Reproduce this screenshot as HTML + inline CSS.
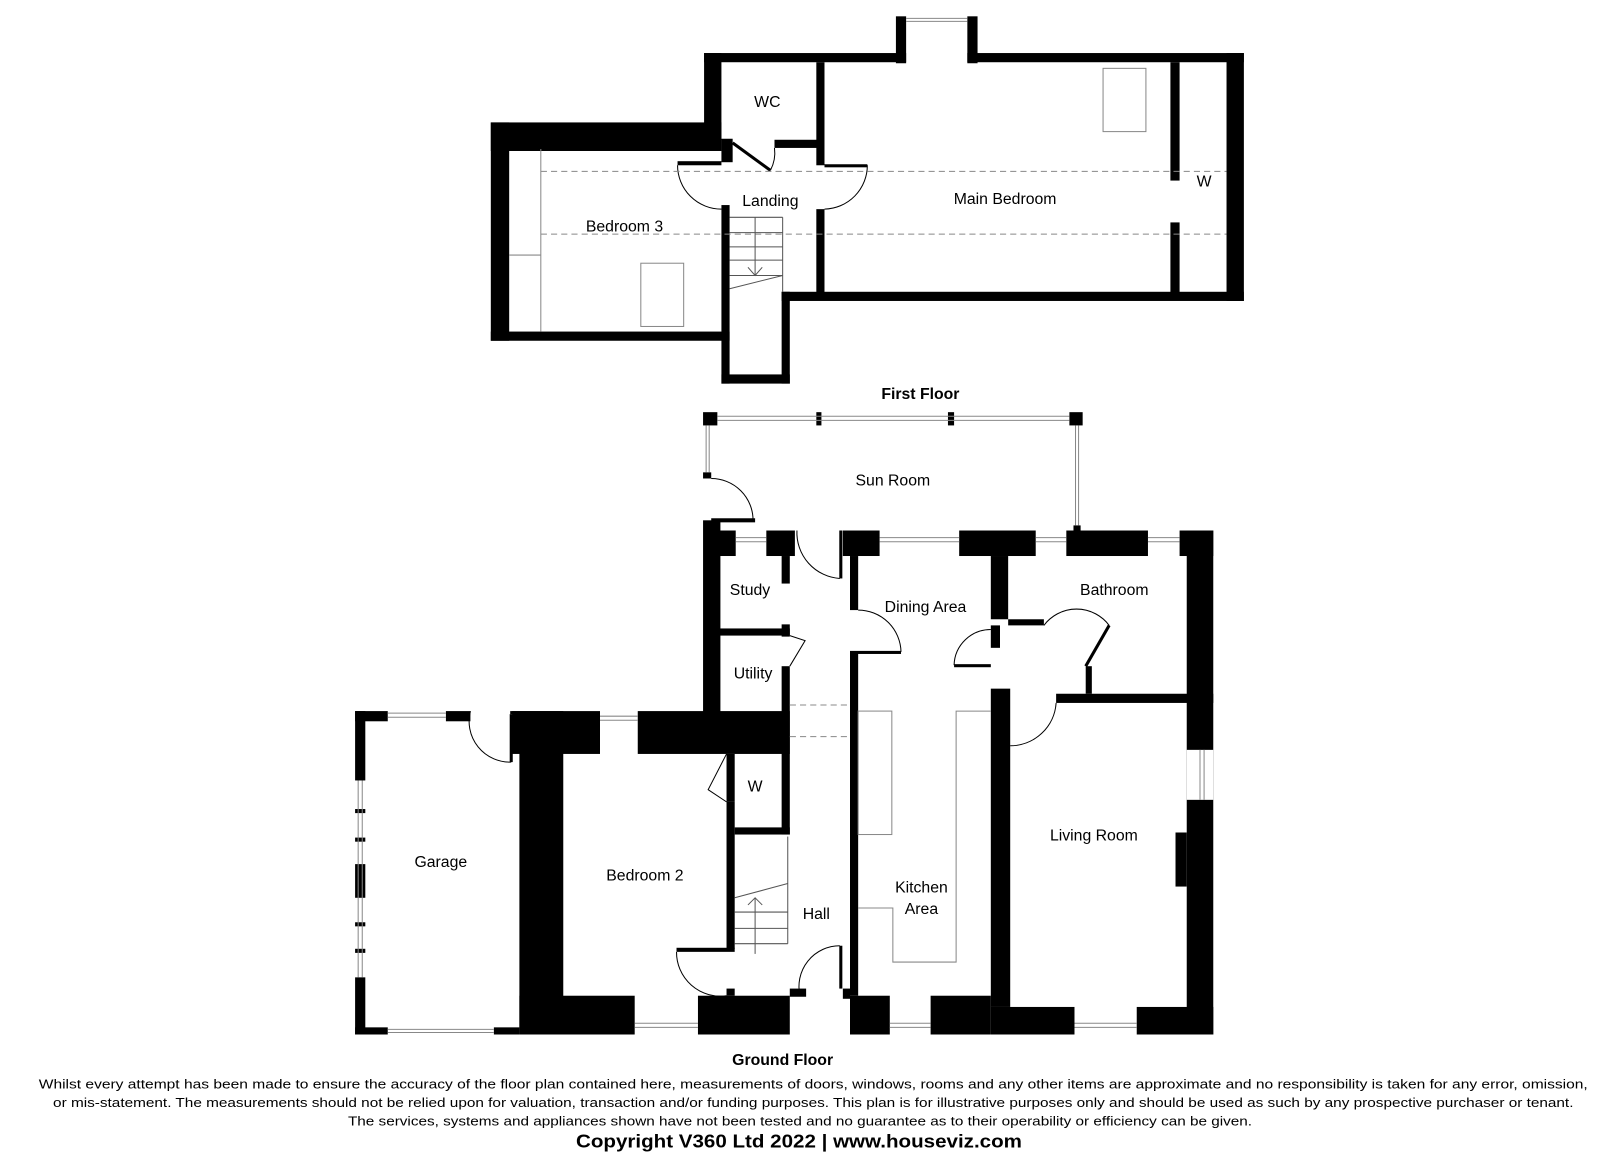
<!DOCTYPE html>
<html><head><meta charset="utf-8"><style>
html,body{margin:0;padding:0;background:#fff;}
svg{display:block;}
text{font-family:"Liberation Sans",Arial,sans-serif;fill:#000;}
</style></head><body>
<svg width="1600" height="1161" viewBox="0 0 1568 1138" preserveAspectRatio="none" xmlns="http://www.w3.org/2000/svg">
<g fill="#000">
<rect x="878" y="16" width="10" height="46"/>
<rect x="948" y="16" width="10" height="46"/>
<rect x="690" y="52" width="198" height="9"/>
<rect x="948" y="52" width="271" height="9"/>
<rect x="690" y="52" width="17" height="85"/>
<rect x="481" y="120" width="226" height="28"/>
<rect x="481" y="120" width="18" height="214"/>
<rect x="481" y="325" width="234" height="9"/>
<rect x="707" y="136" width="11" height="23"/>
<rect x="664" y="158" width="43" height="4"/>
<rect x="759" y="137" width="42" height="8"/>
<rect x="800" y="61" width="8" height="101"/>
<rect x="800" y="205" width="8" height="82"/>
<rect x="808" y="161" width="42" height="3"/>
<rect x="707" y="201" width="8" height="175"/>
<rect x="707" y="367" width="67" height="9"/>
<rect x="766" y="286" width="8" height="90"/>
<rect x="766" y="286" width="453" height="9"/>
<rect x="1202" y="52" width="17" height="243"/>
<rect x="1147" y="61" width="9" height="116"/>
<rect x="1147" y="218" width="9" height="69"/>
</g>
<g fill="none" stroke="#000" stroke-width="1">
<path d="M664 162 A43 43 0 0 0 707 205"/>
<path d="M850 162 A43 43 0 0 1 808 205"/>
<line x1="718" y1="140" x2="755" y2="167" stroke-width="3"/>
<path d="M755 167 A37 37 0 0 0 759 145"/>
<line x1="888" y1="18" x2="948" y2="18" stroke="#888"/>
<line x1="888" y1="21" x2="948" y2="21" stroke="#888"/>
</g>
<g fill="none" stroke="#888" stroke-width="1">
<line x1="530" y1="146" x2="530" y2="325"/>
<line x1="499" y1="250" x2="530" y2="250"/>
<rect x="1081" y="67" width="42" height="62"/>
<rect x="628" y="258" width="42" height="62"/>
<line x1="530" y1="168" x2="1202" y2="168" stroke-dasharray="6 4"/>
<line x1="530" y1="229.5" x2="1202" y2="229.5" stroke-dasharray="6 4"/>
<g stroke="#555"><line x1="715" y1="213" x2="767" y2="213"/><line x1="715" y1="228" x2="767" y2="228"/><line x1="715" y1="242" x2="767" y2="242"/><line x1="715" y1="255" x2="767" y2="255"/><line x1="715" y1="270" x2="767" y2="270"/><line x1="767" y1="270" x2="715" y2="283"/><line x1="767" y1="213" x2="767" y2="286"/><line x1="740" y1="213" x2="740" y2="270"/><path d="M733 262 L740 270 L747 262"/></g>
</g>
<g font-size="15.5" text-anchor="middle">
<text x="752" y="105">WC</text>
<text x="755" y="202">Landing</text>
<text x="612" y="227">Bedroom 3</text>
<text x="985" y="200">Main Bedroom</text>
<text x="1180" y="183">W</text>
<text x="902" y="391" font-weight="bold">First Floor</text>
</g>

<g fill="#000">
<rect x="689" y="404" width="14" height="13"/>
<rect x="800" y="404" width="5" height="13"/>
<rect x="929" y="404" width="6" height="13"/>
<rect x="1048" y="404" width="13" height="13"/>
<rect x="689" y="463" width="8" height="6"/>
<rect x="689" y="510" width="17" height="190"/>
<rect x="697" y="508" width="43" height="4"/>
<rect x="1052" y="515" width="7" height="6"/>
<rect x="697" y="520" width="24" height="25"/>
<rect x="751" y="520" width="28" height="25"/>
<rect x="826" y="520" width="36" height="25"/>
<rect x="940" y="520" width="75" height="25"/>
<rect x="1045" y="520" width="80" height="25"/>
<rect x="1156" y="520" width="33" height="25"/>
<rect x="1163" y="520" width="26" height="494"/>
<rect x="766" y="545" width="8" height="27"/>
<rect x="697" y="616" width="77" height="7"/>
<rect x="766" y="612" width="8" height="12"/>
<rect x="766" y="653" width="8" height="165"/>
<rect x="502" y="697" width="86" height="42"/>
<rect x="625" y="697" width="149" height="42"/>
<rect x="509" y="697" width="43" height="317"/>
<rect x="712" y="739" width="8" height="47" />
<rect x="712" y="786" width="8" height="144"/>
<rect x="663" y="929" width="57" height="4"/>
<rect x="720" y="811" width="54" height="7"/>
<rect x="509" y="976" width="113" height="38"/>
<rect x="684" y="976" width="90" height="38"/>
<rect x="774" y="969" width="16" height="8"/>
<rect x="712" y="969" width="8" height="7"/>
<rect x="826" y="969" width="7" height="10"/>
<rect x="348" y="697" width="32" height="10"/>
<rect x="437" y="697" width="24" height="10"/>
<rect x="348" y="697" width="10" height="68"/>
<rect x="348" y="793" width="10" height="4"/>
<rect x="348" y="821" width="10" height="4"/>
<rect x="348" y="847" width="10" height="33"/>
<rect x="348" y="904" width="10" height="4"/>
<rect x="348" y="930" width="10" height="4"/>
<rect x="348" y="958" width="10" height="56"/>
<rect x="348" y="1007" width="32" height="7"/>
<rect x="484" y="1007" width="25" height="7"/>
<rect x="500" y="697" width="9" height="3"/>
<rect x="833" y="545" width="8" height="53"/>
<rect x="833" y="638" width="50" height="3"/>
<rect x="833" y="639" width="8" height="337"/>
<rect x="833" y="976" width="39" height="38"/>
<rect x="912" y="976" width="59" height="38"/>
<rect x="971" y="987" width="82" height="27"/>
<rect x="1114" y="987" width="75" height="27"/>
<rect x="971" y="545" width="17" height="62"/>
<rect x="988" y="607" width="35" height="6"/>
<rect x="971" y="613" width="9" height="22"/>
<rect x="935" y="651" width="36" height="3"/>
<rect x="971" y="675" width="19" height="312"/>
<rect x="1035" y="680" width="154" height="9"/>
<rect x="1064" y="653" width="6" height="27"/>
<rect x="1152" y="816" width="11" height="53"/>
</g>
<rect x="1163" y="735" width="26" height="49" fill="#fff"/>
<g fill="none" stroke="#888" stroke-width="1">
<line x1="703" y1="408" x2="1048" y2="408"/><line x1="703" y1="412" x2="1048" y2="412"/>
<line x1="692" y1="417" x2="692" y2="463"/><line x1="695" y1="417" x2="695" y2="463"/>
<line x1="1054" y1="417" x2="1054" y2="515"/><line x1="1057" y1="417" x2="1057" y2="515"/>
<line x1="721" y1="527" x2="751" y2="527"/><line x1="721" y1="531" x2="751" y2="531"/>
<line x1="862" y1="527" x2="940" y2="527"/><line x1="862" y1="531" x2="940" y2="531"/>
<line x1="1015" y1="527" x2="1045" y2="527"/><line x1="1015" y1="531" x2="1045" y2="531"/>
<line x1="1125" y1="527" x2="1156" y2="527"/><line x1="1125" y1="531" x2="1156" y2="531"/>
<line x1="588" y1="702" x2="625" y2="702"/><line x1="588" y1="706" x2="625" y2="706"/>
<line x1="380" y1="699" x2="437" y2="699"/><line x1="380" y1="703" x2="437" y2="703"/>
<line x1="351" y1="765" x2="351" y2="958"/><line x1="355" y1="765" x2="355" y2="958"/>
<line x1="380" y1="1009" x2="484" y2="1009"/><line x1="380" y1="1012" x2="484" y2="1012"/>
<line x1="622" y1="1003" x2="684" y2="1003"/><line x1="622" y1="1007" x2="684" y2="1007"/>
<line x1="872" y1="1003" x2="912" y2="1003"/><line x1="872" y1="1007" x2="912" y2="1007"/>
<line x1="1053" y1="1003" x2="1114" y2="1003"/><line x1="1053" y1="1007" x2="1114" y2="1007"/>
<line x1="1176" y1="735" x2="1176" y2="784"/><line x1="1180" y1="735" x2="1180" y2="784"/>
<line x1="774" y1="691" x2="833" y2="691" stroke-dasharray="6 4"/>
<line x1="774" y1="722" x2="833" y2="722" stroke-dasharray="6 4"/>
<rect x="841" y="697" width="33" height="121"/>
<path d="M841 890 L875 890 L875 943 L937 943 L937 697 L971 697"/>
<g stroke="#555"><line x1="772" y1="820" x2="772" y2="925"/><line x1="720" y1="880" x2="772" y2="866"/><line x1="720" y1="894" x2="772" y2="894"/><line x1="720" y1="910" x2="772" y2="910"/><line x1="720" y1="925" x2="772" y2="925"/><line x1="740" y1="880" x2="740" y2="935"/><path d="M733 887 L740 880 L747 887"/></g>
</g>
<g fill="none" stroke="#000" stroke-width="1">
<path d="M697 469 A41 41 0 0 1 738 510"/>
<path d="M781 520 A45 45 0 0 0 823 567"/>
<line x1="824" y1="520" x2="824" y2="567" stroke-width="3"/>
<path d="M774 623 L789 628 L774 653" stroke-width="1"/>
<path d="M841 598 A42 42 0 0 1 883 639"/>
<path d="M461 697 A40 40 0 0 0 501 747"/>
<line x1="501" y1="700" x2="501" y2="747" stroke-width="3"/>
<path d="M712 739 L694 774 L712 786"/>
<path d="M663 933 A43 43 0 0 0 712 976"/>
<path d="M784 976 A40 40 0 0 1 823 927"/>
<line x1="824" y1="927" x2="824" y2="969" stroke-width="3"/>
<path d="M935 652 A36 36 0 0 1 971 617"/>
<path d="M990 731 A45 45 0 0 0 1035 689"/>
<path d="M1023 613 A40 40 0 0 1 1087 613"/>
<line x1="1064" y1="653" x2="1087" y2="613" stroke-width="3"/>
</g>
<g font-size="15.5" text-anchor="middle">
<text x="875" y="476">Sun Room</text>
<text x="735" y="583">Study</text>
<text x="907" y="600">Dining Area</text>
<text x="1092" y="583">Bathroom</text>
<text x="738" y="665">Utility</text>
<text x="740" y="776">W</text>
<text x="432" y="850">Garage</text>
<text x="632" y="863">Bedroom 2</text>
<text x="1072" y="824">Living Room</text>
<text x="903" y="875">Kitchen</text>
<text x="903" y="896">Area</text>
<text x="800" y="901">Hall</text>
<text x="767" y="1044" font-weight="bold">Ground Floor</text>
</g>
<g font-size="13" text-anchor="middle">
<text x="797" y="1067" textLength="1518" lengthAdjust="spacingAndGlyphs">Whilst every attempt has been made to ensure the accuracy of the floor plan contained here, measurements of doors, windows, rooms and any other items are approximate and no responsibility is taken for any error, omission,</text>
<text x="797" y="1085" textLength="1490" lengthAdjust="spacingAndGlyphs">or mis-statement. The measurements should not be relied upon for valuation, transaction and/or funding purposes. This plan is for illustrative purposes only and should be used as such by any prospective purchaser or tenant.</text>
<text x="784" y="1103" textLength="886" lengthAdjust="spacingAndGlyphs">The services, systems and appliances shown have not been tested and no guarantee as to their operability or efficiency can be given.</text>
<text x="783" y="1125" font-size="18" font-weight="bold" textLength="437" lengthAdjust="spacingAndGlyphs">Copyright V360 Ltd 2022 | www.houseviz.com</text>
</g>
</svg>
</body></html>
